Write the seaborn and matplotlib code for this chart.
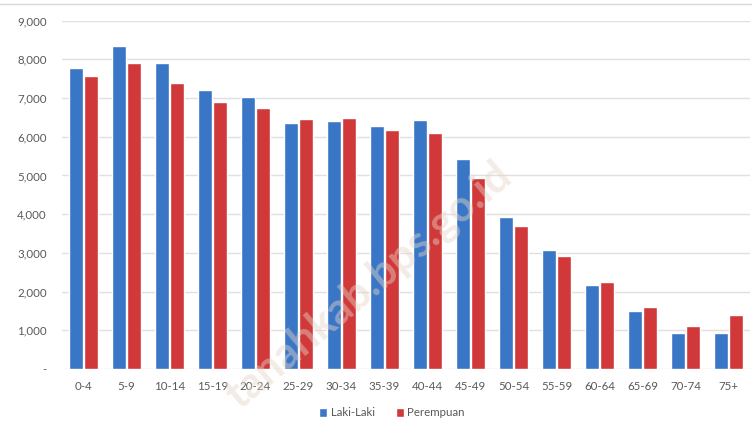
import numpy as np
import pandas as pd
import matplotlib
matplotlib.use("Agg")
import matplotlib.pyplot as plt
import seaborn as sns
from matplotlib.ticker import FuncFormatter

kelompok_umur = ['0-4', '5-9', '10-14', '15-19', '20-24', '25-29', '30-34', '35-39',
                 '40-44', '45-49', '50-54', '55-59', '60-64', '65-69', '70-74', '75+']
laki_laki = [7770, 8346, 7899, 7209, 7020, 6365, 6408, 6287,
             6434, 5434, 3920, 3075, 2170, 1506, 938, 938]
perempuan = [7571, 7899, 7382, 6907, 6752, 6452, 6478, 6176,
             6106, 4928, 3695, 2920, 2240, 1594, 1111, 1395]

df = pd.DataFrame({
    'umur': kelompok_umur * 2,
    'jumlah': laki_laki + perempuan,
    'jenis_kelamin': ['Laki-Laki'] * len(kelompok_umur) + ['Perempuan'] * len(kelompok_umur),
})

sns.set_theme(style='white')
plt.rcParams['font.family'] = ['Lato', 'DejaVu Sans']

fig = plt.figure(figsize=(7.52, 4.24), dpi=100)
ax = fig.add_axes([62 / 752, (424 - 369) / 424, (750 - 62) / 752, (369 - 20.7) / 424])

sns.barplot(data=df, x='umur', y='jumlah', hue='jenis_kelamin',
            palette={'Laki-Laki': '#3a76c6', 'Perempuan': '#d0383a'},
            width=0.72, gap=0.1, saturation=1, ax=ax, zorder=3)

ax.set_ylim(0, 9000)
ax.set_xlim(-0.5, len(kelompok_umur) - 0.5)
ax.set_yticks(np.arange(0, 9001, 1000))
ax.yaxis.set_major_formatter(FuncFormatter(lambda v, p: '-' if v == 0 else f'{int(v):,}'))
ax.grid(axis='y', color='#e0e0e0', linewidth=1, zorder=0)
ax.set_axisbelow(True)
for s in ax.spines.values():
    s.set_visible(False)
ax.tick_params(axis='both', length=0, labelsize=8.3, colors='#595959', pad=11)
ax.tick_params(axis='x', pad=9)
ax.set_xlabel('')
ax.set_ylabel('')

ax.legend(loc='center', bbox_to_anchor=(392 / 752, 1 - 413 / 424), bbox_transform=fig.transFigure,
          ncol=2, frameon=False, fontsize=8.3, handlelength=0.7, handleheight=0.7,
          handletextpad=0.3, columnspacing=1.8, labelcolor='#595959')

# garis tepi atas
fig.add_artist(plt.Line2D([0, 1], [1 - 4 / 424, 1 - 4 / 424], color='#d9d9d9', linewidth=1,
                          transform=fig.transFigure))

# watermark tipis
fig.text(506 / 752, 1 - 170 / 424, 'tanahkab.bps.go.id', fontsize=31, fontweight='bold',
         color='#e6d6c8', alpha=0.45, rotation=40, rotation_mode='anchor',
         ha='right', va='center', zorder=10)

fig.savefig('out.png', dpi=100)
